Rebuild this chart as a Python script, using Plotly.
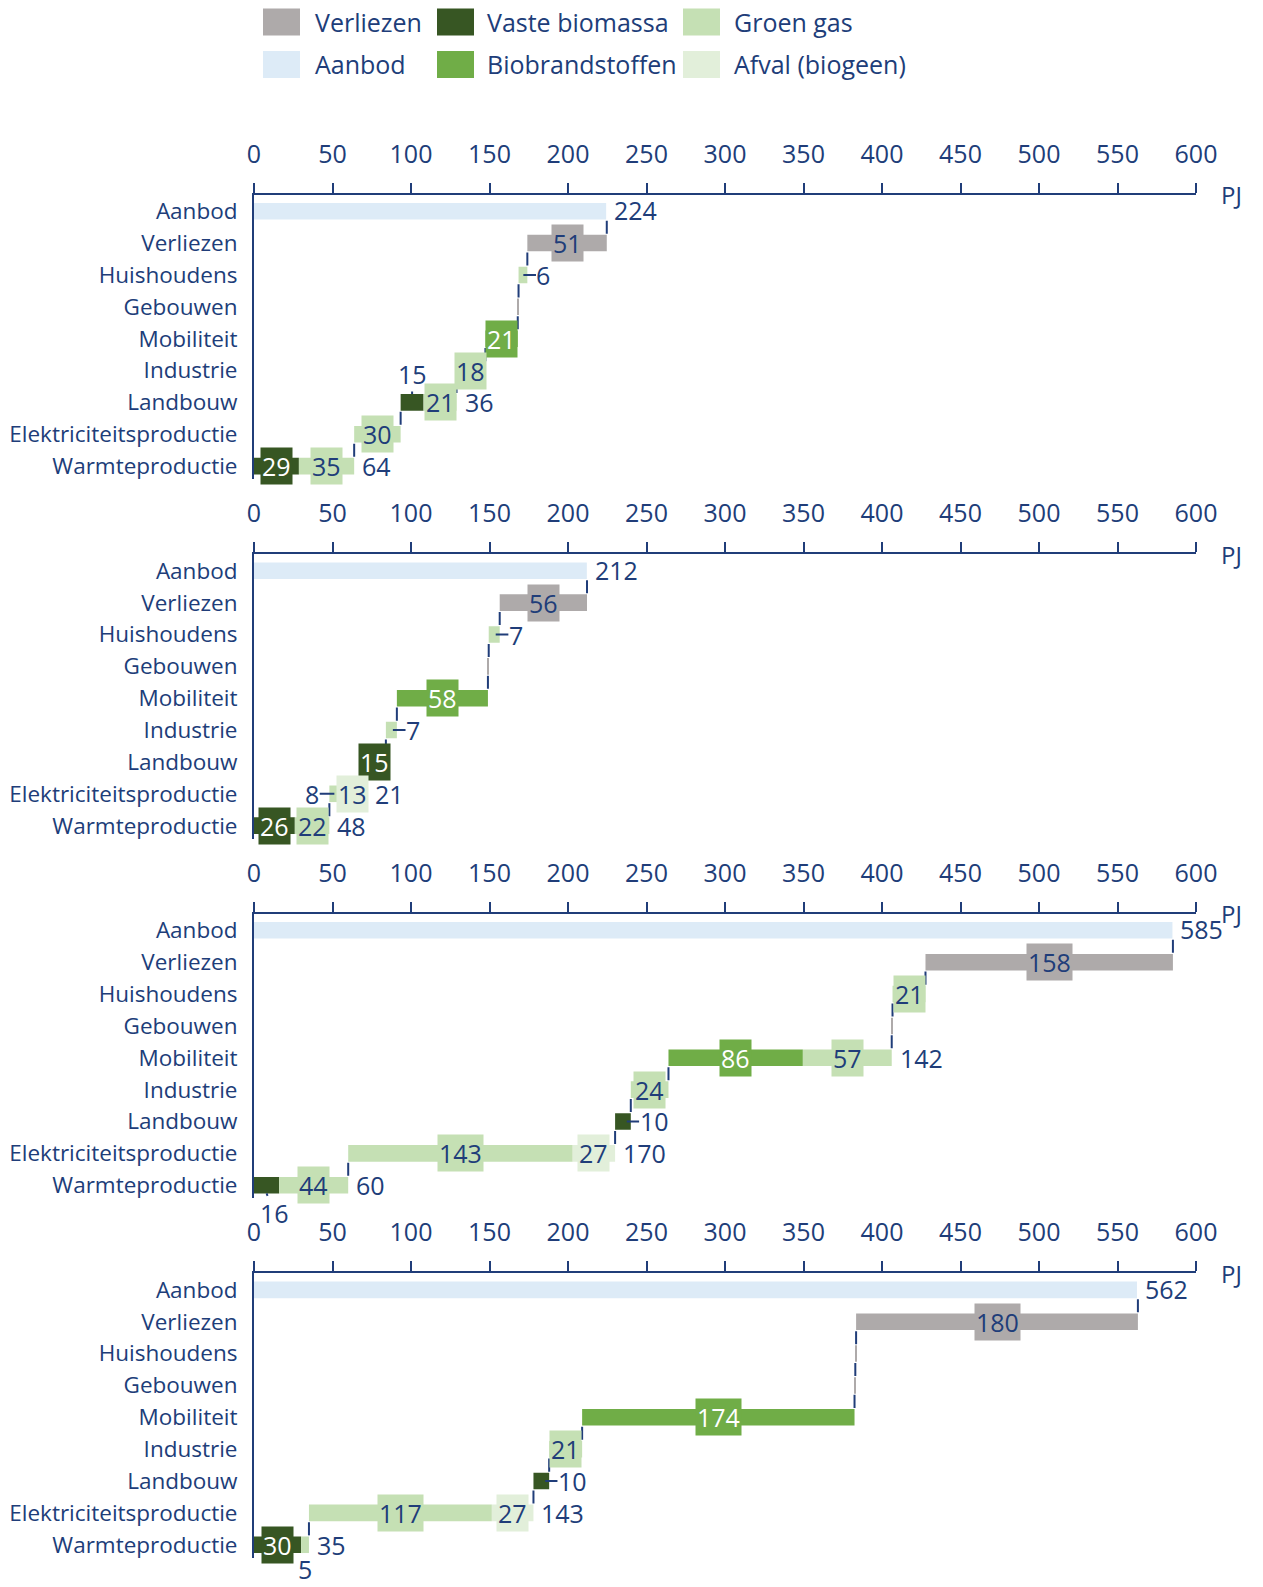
import plotly.graph_objects as go

# ---------------- data ----------------
categories = ["Aanbod", "Verliezen", "Huishoudens", "Gebouwen", "Mobiliteit",
              "Industrie", "Landbouw", "Elektriciteitsproductie", "Warmteproductie"]
x_ticks = list(range(0, 601, 50))
unit_label = "PJ"
legend_rows = [["Verliezen", "Vaste biomassa", "Groen gas"],
               ["Aanbod", "Biobrandstoffen", "Afval (biogeen)"]]

# panel 1
p1_aanbod = [224.3, 0, 0, 0, 0, 0, 0, 0, 0]
p1_verliezen = [0, 50.6, 0, 0.5, 0, 0, 0, 0, 0]
p1_vaste = [0, 0, 0, 0, 0, 0, 14.6, 0, 28.6]
p1_bio = [0, 0, 0, 0, 20.6, 0, 0, 0, 0]
p1_groen = [0, 0, 5.6, 0, 0, 18.4, 21.0, 29.6, 35.2]
p1_afval = [0, 0, 0, 0, 0, 0, 0, 0, 0]

# panel 2
p2_aanbod = [212, 0, 0, 0, 0, 0, 0, 0, 0]
p2_verliezen = [0, 55.6, 0, 0.5, 0, 0, 0, 0, 0]
p2_vaste = [0, 0, 0, 0, 0, 0, 15, 0, 26]
p2_bio = [0, 0, 0, 0, 58, 0, 0, 0, 0]
p2_groen = [0, 0, 7, 0, 0, 7, 0, 8, 22]
p2_afval = [0, 0, 0, 0, 0, 0, 0, 13, 0]

# panel 3
p3_aanbod = [585, 0, 0, 0, 0, 0, 0, 0, 0]
p3_verliezen = [0, 157.6, 0, 0.5, 0, 0, 0, 0, 0]
p3_vaste = [0, 0, 0, 0, 0, 0, 10, 0, 16]
p3_bio = [0, 0, 0, 0, 85.6, 0, 0, 0, 0]
p3_groen = [0, 0, 21, 0, 56.6, 24, 0, 143, 44]
p3_afval = [0, 0, 0, 0, 0, 0, 0, 27, 0]

# panel 4
p4_aanbod = [562.4, 0, 0, 0, 0, 0, 0, 0, 0]
p4_verliezen = [0, 179.5, 0.5, 0.5, 0, 0, 0, 0, 0]
p4_vaste = [0, 0, 0, 0, 0, 0, 10, 0, 30]
p4_bio = [0, 0, 0, 0, 173.5, 0, 0, 0, 0]
p4_groen = [0, 0, 0, 0, 0, 21, 0, 116.5, 5]
p4_afval = [0, 0, 0, 0, 0, 0, 0, 26.5, 0]

panels = [
    {"Aanbod": p1_aanbod, "Verliezen": p1_verliezen, "Vaste biomassa": p1_vaste,
     "Biobrandstoffen": p1_bio, "Groen gas": p1_groen, "Afval (biogeen)": p1_afval},
    {"Aanbod": p2_aanbod, "Verliezen": p2_verliezen, "Vaste biomassa": p2_vaste,
     "Biobrandstoffen": p2_bio, "Groen gas": p2_groen, "Afval (biogeen)": p2_afval},
    {"Aanbod": p3_aanbod, "Verliezen": p3_verliezen, "Vaste biomassa": p3_vaste,
     "Biobrandstoffen": p3_bio, "Groen gas": p3_groen, "Afval (biogeen)": p3_afval},
    {"Aanbod": p4_aanbod, "Verliezen": p4_verliezen, "Vaste biomassa": p4_vaste,
     "Biobrandstoffen": p4_bio, "Groen gas": p4_groen, "Afval (biogeen)": p4_afval},
]

# labels drawn outside their (small) segment: (row, series) -> placement
outside_labels = [
    {(2, "Groen gas"): "right", (6, "Vaste biomassa"): "above"},
    {(2, "Groen gas"): "right", (5, "Groen gas"): "right", (7, "Groen gas"): "left"},
    {(6, "Vaste biomassa"): "right", (8, "Vaste biomassa"): "below-right"},
    {(6, "Vaste biomassa"): "right", (8, "Groen gas"): "below"},
]

# ---------------- style ----------------
NAVY = "#203D79"
FONT = "Open Sans"
LBL = 25
colors = {
    "Verliezen": "#AEAAAA",
    "Vaste biomassa": "#375623",
    "Groen gas": "#C5E0B4",
    "Aanbod": "#DDEBF7",
    "Biobrandstoffen": "#70AD47",
    "Afval (biogeen)": "#E2EFDA",
}
white_text = {"Vaste biomassa", "Biobrandstoffen"}
stack_order = ["Vaste biomassa", "Biobrandstoffen", "Groen gas", "Afval (biogeen)", "Verliezen"]

W, H = 1263, 1587
ML, MR = 254, 67
PW = W - ML - MR
panel_tops = [195, 555, 915, 1275]
panel_h = 285
row_pitch = 31.9
first_row = 16.5
bar_w = 0.52
y_top = -first_row / row_pitch
y_bot = (panel_h - first_row) / row_pitch
px_per_pj = PW / 600.0


def fmt(v):
    return str(int(v + 0.5))


def half_w(txt):
    return len(txt) * 0.572 * LBL / 2 + 1


def xp(px):
    return (px - ML) / PW


def yp(py):
    return 1 - py / H


fig = go.Figure()
annotations = []
shapes = []
n = len(categories)

for pi, pdata in enumerate(panels):
    sfx = "" if pi == 0 else str(pi + 1)
    xa, ya = "x" + sfx, "y" + sfx
    totals = [sum(pdata[s][r] for s in stack_order) for r in range(n)]
    row_base = [0.0] * n
    for r in range(n - 2, 0, -1):
        row_base[r] = row_base[r + 1] + totals[r + 1]
    seg = {}
    for r in range(1, n):
        cum = row_base[r]
        for s in stack_order:
            v = pdata[s][r]
            if v > 0:
                seg[(r, s)] = (cum, v)
                cum += v

    # Aanbod bar
    av = pdata["Aanbod"][0]
    fig.add_trace(go.Bar(orientation="h", y=[0], x=[av], base=[0], width=bar_w,
                         marker=dict(color=colors["Aanbod"], line=dict(width=0)),
                         xaxis=xa, yaxis=ya, showlegend=False, hoverinfo="skip"))
    for s in stack_order:
        ys, xs, bs = [], [], []
        for r in range(1, n):
            if (r, s) in seg:
                st, v = seg[(r, s)]
                ys.append(r); xs.append(v); bs.append(st)
        if ys:
            fig.add_trace(go.Bar(orientation="h", y=ys, x=xs, base=bs, width=bar_w,
                                 marker=dict(color=colors[s], line=dict(width=0)),
                                 xaxis=xa, yaxis=ya, showlegend=False, hoverinfo="skip"))

    # connectors
    half, gap = bar_w / 2, 0.035
    cx, cy = [], []
    x0 = row_base[1] + totals[1]
    cx += [x0, x0, None]; cy += [half + gap, 1 - half - gap, None]
    for r in range(1, n - 1):
        xx = row_base[r]
        cx += [xx, xx, None]; cy += [r + half + gap, r + 1 - half - gap, None]
    fig.add_trace(go.Scatter(x=cx, y=cy, mode="lines", line=dict(color=NAVY, width=2),
                             xaxis=xa, yaxis=ya, showlegend=False, hoverinfo="skip"))

    # labels
    outs = outside_labels[pi]
    for (r, s), (st, v) in seg.items():
        if v < 1:
            continue
        txt = fmt(v)
        hw = half_w(txt)
        base_ann = dict(xref=xa, yref=ya, text=txt, font=dict(family=FONT, size=LBL, color=NAVY))
        pos = outs.get((r, s))
        if pos is None:
            annotations.append(dict(base_ann, x=st + v / 2, y=r, showarrow=False,
                                    bgcolor=colors[s], borderpad=1,
                                    font=dict(family=FONT, size=LBL,
                                              color="white" if s in white_text else NAVY)))
        else:
            arrow = dict(showarrow=True, arrowhead=0, arrowwidth=2, arrowcolor=NAVY,
                         standoff=0, borderpad=0)
            if pos == "right":
                annotations.append(dict(base_ann, **arrow, x=st + v, y=r, xshift=-4, ax=12 + hw, ay=0))
            elif pos == "left":
                annotations.append(dict(base_ann, **arrow, x=st, y=r, xshift=5, ax=-(14 + hw), ay=0))
            elif pos == "above":
                annotations.append(dict(base_ann, **arrow, x=st + v / 2, y=r - half, ax=0, ay=-20))
            elif pos == "below":
                annotations.append(dict(base_ann, **arrow, x=st + v / 2, y=r + half, ax=0, ay=16))
            elif pos == "below-right":
                annotations.append(dict(base_ann, **arrow, x=st + v / 2, y=r + half, ax=8, ay=20))

    # totals of rows with several segments
    for r in range(1, n):
        segs = [s for s in stack_order if (r, s) in seg and seg[(r, s)][1] >= 1]
        if len(segs) >= 2:
            last_st, last_v = seg[(r, segs[-1])]
            inside_last = outs.get((r, segs[-1])) is None
            overhang = 0
            if inside_last:
                overhang = max(0.0, half_w(fmt(last_v)) - last_v * px_per_pj / 2)
            annotations.append(dict(xref=xa, yref=ya, x=row_base[r] + totals[r], y=r,
                                    text=fmt(totals[r]), showarrow=False, xanchor="left",
                                    xshift=6 + overhang,
                                    font=dict(family=FONT, size=LBL, color=NAVY)))
    # Aanbod label
    annotations.append(dict(xref=xa, yref=ya, x=av, y=0, text=fmt(av), showarrow=False,
                            xanchor="left", xshift=6, yshift=1,
                            font=dict(family=FONT, size=LBL, color=NAVY)))
    # unit
    annotations.append(dict(xref=xa, yref=ya + " domain", x=600, y=1, text=unit_label,
                            showarrow=False, xshift=35, xanchor="center", yanchor="middle",
                            font=dict(family=FONT, size=24, color=NAVY)))

    top = panel_tops[pi]
    dom = [1 - (top + panel_h) / H, 1 - top / H]
    fig.update_layout(**{
        "xaxis" + sfx: dict(domain=[0, 1], anchor=ya, side="top", range=[0, 600],
                            tickvals=x_ticks, ticktext=[str(t) for t in x_ticks],
                            ticks="outside", ticklen=10, tickwidth=2, tickcolor=NAVY,
                            showline=True, linecolor=NAVY, linewidth=2, showgrid=False,
                            zeroline=False, ticklabelstandoff=10, fixedrange=True,
                            tickfont=dict(family=FONT, size=25, color=NAVY)),
        "yaxis" + sfx: dict(domain=dom, anchor=xa, range=[y_bot, y_top],
                            tickvals=list(range(n)), ticktext=categories, ticks="",
                            showline=True, linecolor=NAVY, linewidth=2, showgrid=False,
                            zeroline=False, ticklabelstandoff=10, fixedrange=True,
                            tickfont=dict(family=FONT, size=22.5, color=NAVY)),
    })

# manual legend
legend_y = [22, 64.5]
sw_x = [263, 437, 683]
tx_x = [313, 485, 732]
for ri, row in enumerate(legend_rows):
    for ci, name in enumerate(row):
        cy_ = legend_y[ri]
        shapes.append(dict(type="rect", xref="paper", yref="paper",
                           x0=xp(sw_x[ci]), x1=xp(sw_x[ci] + 37),
                           y0=yp(cy_ + 13.5), y1=yp(cy_ - 13.5),
                           fillcolor=colors[name], line=dict(width=0)))
        annotations.append(dict(xref="paper", yref="paper", x=xp(tx_x[ci]), y=yp(cy_),
                                text=name, showarrow=False, xanchor="left", yanchor="middle",
                                font=dict(family=FONT, size=25, color=NAVY)))

fig.update_layout(width=W, height=H, margin=dict(l=ML, r=MR, t=0, b=0),
                  paper_bgcolor="white", plot_bgcolor="white", barmode="overlay",
                  annotations=annotations, shapes=shapes, hovermode=False,
                  font=dict(family=FONT, color=NAVY))

fig.write_html("out.html", config={"displayModeBar": False},
               post_script="document.body.style.margin='0';document.body.style.overflow='hidden';")
